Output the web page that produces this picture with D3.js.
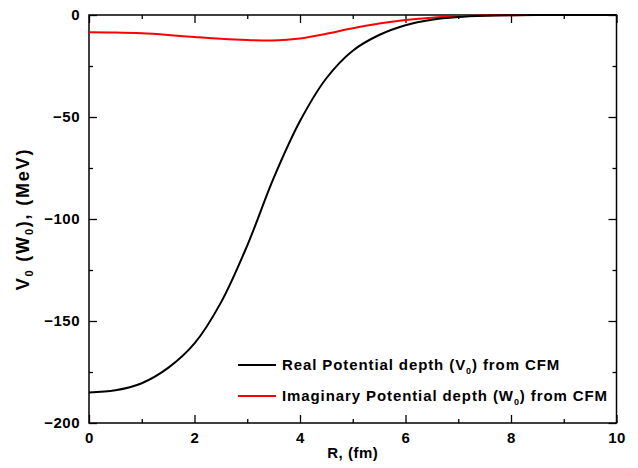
<!DOCTYPE html>
<html>
<head>
<meta charset="utf-8">
<script src="https://cdn.jsdelivr.net/npm/d3@7"></script>
<style>
  body { margin: 0; background: #fff; }
  text { font-family: "Liberation Sans", Arial, sans-serif; font-weight: bold; }
</style>
</head>
<body>
<div id="chart"></div>
<script>
// values
const rValues = [0, 0.5, 1, 1.5, 2, 2.5, 3, 3.5, 4, 4.5, 5, 5.5, 6, 6.5, 7, 7.5, 8, 8.5, 9, 9.5, 10];
const realDepth = [-185, -184, -180.5, -173, -161, -141, -113, -80, -52, -31, -17.5, -9.8, -5.0, -2.3, -1.0, -0.4, -0.15, -0.05, 0, 0, 0];
const imagDepth = [-8.5, -8.6, -9.0, -9.8, -10.8, -11.7, -12.3, -12.5, -11.5, -9.2, -6.5, -4.2, -2.5, -1.3, -0.6, -0.25, -0.1, 0, 0, 0, 0];
const xTicks = [0, 2, 4, 6, 8, 10];
const yTicks = [0, -50, -100, -150, -200];
const legendNames = ["Real Potential depth (V", "Imaginary Potential depth (W"];
const legendColors = ["#000000", "#ff0000"];

const width = 638, height = 468;
const margin = { top: 15, right: 21.5, bottom: 45, left: 89 };

const svg = d3.select("#chart")
    .append("svg")
    .attr("width", width)
    .attr("height", height);

const x = d3.scaleLinear()
    .domain([0, 10])
    .range([margin.left, width - margin.right]);

const y = d3.scaleLinear()
    .domain([-200, 0])
    .range([height - margin.bottom, margin.top]);

// ---- axes (ticks point inward, all four sides) ----
const minorX = d3.range(1, 10, 2);
const minorY = d3.range(-175, 0, 50);

function tickStyle(g) {
    g.select(".domain").remove();
    g.selectAll("line").attr("stroke", "#000").attr("stroke-width", 1.3);
}

svg.append("g")
    .attr("transform", `translate(0,${y(-200)})`)
    .call(d3.axisBottom(x).tickValues(xTicks).tickSize(-8).tickPadding(9).tickFormat(d3.format("d")))
    .call(tickStyle)
    .selectAll("text").style("font-size", "15px").style("letter-spacing", "0.5px").attr("fill", "#000");

svg.append("g")
    .attr("transform", `translate(0,${y(-200)})`)
    .call(d3.axisBottom(x).tickValues(minorX).tickSize(-4).tickFormat(""))
    .call(tickStyle);

svg.append("g")
    .attr("transform", `translate(0,${y(0)})`)
    .call(d3.axisTop(x).tickValues(xTicks).tickSize(-8).tickFormat(""))
    .call(tickStyle);

svg.append("g")
    .attr("transform", `translate(0,${y(0)})`)
    .call(d3.axisTop(x).tickValues(minorX).tickSize(-4).tickFormat(""))
    .call(tickStyle);

svg.append("g")
    .attr("transform", `translate(${x(0)},0)`)
    .call(d3.axisLeft(y).tickValues(yTicks).tickSize(-8).tickPadding(9).tickFormat(d3.format("d")))
    .call(tickStyle)
    .selectAll("text").style("font-size", "15px").style("letter-spacing", "0.5px").attr("fill", "#000");

svg.append("g")
    .attr("transform", `translate(${x(0)},0)`)
    .call(d3.axisLeft(y).tickValues(minorY).tickSize(-4).tickFormat(""))
    .call(tickStyle);

svg.append("g")
    .attr("transform", `translate(${x(10)},0)`)
    .call(d3.axisRight(y).tickValues(yTicks).tickSize(-8).tickFormat(""))
    .call(tickStyle);

svg.append("g")
    .attr("transform", `translate(${x(10)},0)`)
    .call(d3.axisRight(y).tickValues(minorY).tickSize(-4).tickFormat(""))
    .call(tickStyle);

// frame
svg.append("rect")
    .attr("x", x(0))
    .attr("y", y(0))
    .attr("width", x(10) - x(0))
    .attr("height", y(-200) - y(0))
    .attr("fill", "none")
    .attr("stroke", "#000")
    .attr("stroke-width", 1.5);

// ---- curves ----
const line = d3.line()
    .x((d, i) => x(rValues[i]))
    .y(d => y(d))
    .curve(d3.curveCatmullRom.alpha(0.5));

svg.append("path")
    .datum(imagDepth)
    .attr("d", line)
    .attr("fill", "none")
    .attr("stroke", legendColors[1])
    .attr("stroke-width", 2);

svg.append("path")
    .datum(realDepth)
    .attr("d", line)
    .attr("fill", "none")
    .attr("stroke", legendColors[0])
    .attr("stroke-width", 2);

// ---- legend ----
const subs = ["0", "0"];
const legend = svg.append("g");
legendNames.forEach((name, i) => {
    const ly = 365 + i * 31;
    legend.append("line")
        .attr("x1", 238).attr("x2", 276)
        .attr("y1", ly).attr("y2", ly)
        .attr("stroke", legendColors[i])
        .attr("stroke-width", 2);
    const t = legend.append("text")
        .attr("x", 282)
        .attr("y", ly + 5)
        .style("font-size", "15px")
        .style("letter-spacing", "0.9px")
        .attr("fill", "#000");
    t.append("tspan").text(name);
    t.append("tspan").attr("dy", 4).style("font-size", "9px").text(subs[i]);
    t.append("tspan").attr("dy", -4).text(") from CFM");
});

// ---- axis titles ----
svg.append("text")
    .attr("x", (x(0) + x(10)) / 2)
    .attr("y", 458)
    .attr("text-anchor", "middle")
    .style("font-size", "15px")
    .style("letter-spacing", "0.5px")
    .text("R, (fm)");

const yl = svg.append("text")
    .attr("transform", `translate(29,${(y(0) + y(-200)) / 2}) rotate(-90)`)
    .attr("text-anchor", "middle")
    .style("font-size", "18px")
    .style("letter-spacing", "1.8px");
yl.append("tspan").text("V");
yl.append("tspan").attr("dy", 4).style("font-size", "11px").text("0");
yl.append("tspan").attr("dy", -4).text(" (W");
yl.append("tspan").attr("dy", 4).style("font-size", "11px").text("0");
yl.append("tspan").attr("dy", -4).text("), (MeV)");
</script>
</body>
</html>
